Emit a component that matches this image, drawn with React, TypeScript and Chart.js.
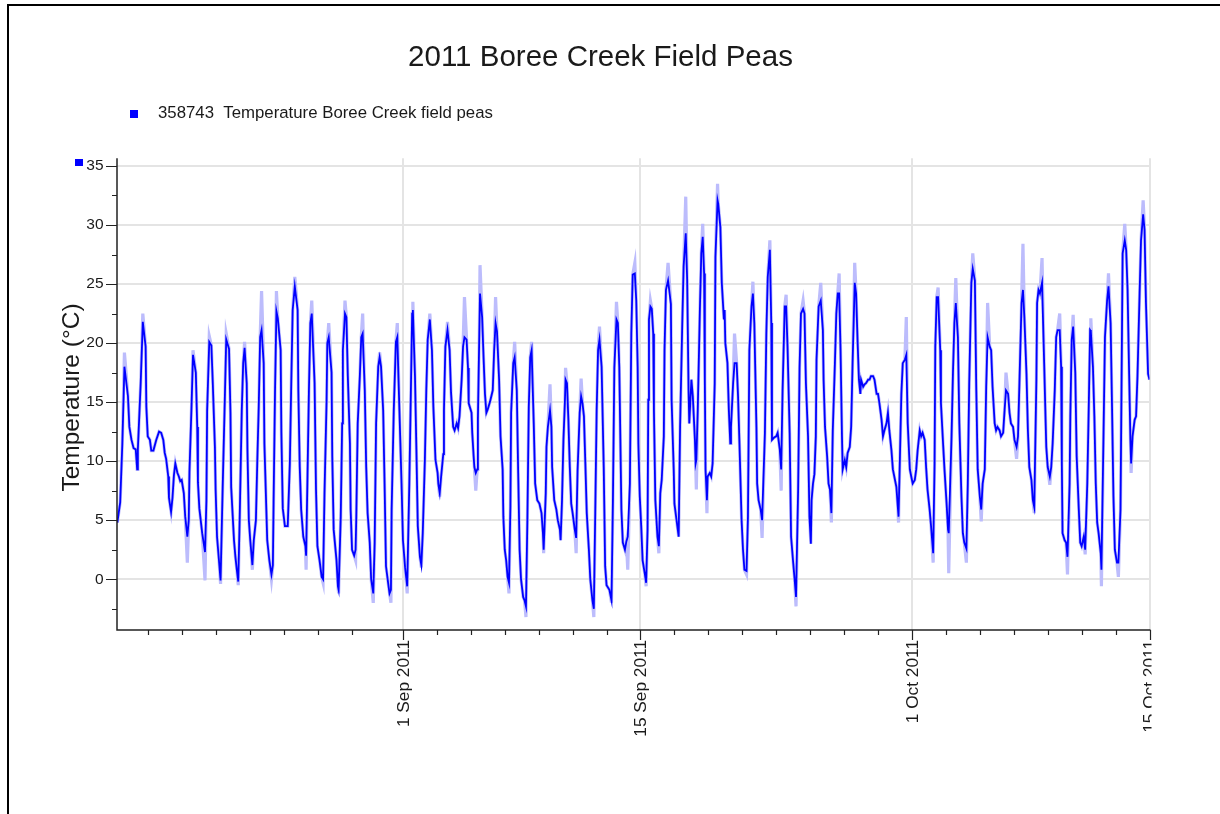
import React, { useEffect, useRef } from "react";
import { Chart, registerables } from "chart.js";

Chart.register(...registerables);

const chartTitle = "2011 Boree Creek Field Peas";
const seriesLabel = "358743  Temperature Boree Creek field peas";
const yAxisTitle = "Temperature (\u00B0C)";

// time: hours since 15 Aug 2011 00:00
const hours = [
  4, 8, 11, 14, 19, 21, 24, 27, 30, 32,
  33, 37, 40, 44, 45, 47, 50, 52, 55, 59,
  63, 66, 69, 71, 73, 76, 77, 80, 82, 84,
  86, 89, 91, 93, 95, 98, 100, 103, 105, 106,
  109, 111, 115, 117, 118, 120, 124, 128, 130, 131,
  134, 137, 139, 142, 143, 145, 148, 150, 153, 156,
  158, 162, 164, 165, 169, 171, 173, 175, 177, 180,
  182, 184, 187, 188, 190, 192, 195, 197, 200, 202,
  204, 206, 208, 211, 212, 216, 219, 222, 224, 225,
  227, 229, 231, 235, 236, 238, 241, 245, 248, 250,
  252, 255, 259, 260, 262, 264, 267, 270, 271, 273,
  275, 277, 279, 283, 285, 287, 290, 293, 295, 297,
  300, 301, 303, 307, 308, 310, 314, 316, 317, 320,
  322, 323, 326, 328, 330, 333, 334, 336, 339, 341,
  342, 344, 347, 349, 351, 354, 356, 358, 361, 363,
  366, 368, 370, 373, 375, 377, 380, 382, 384, 387,
  389, 391, 392, 395, 398, 400, 403, 406, 408, 411,
  414, 417, 419, 421, 422, 425, 427, 429, 432, 434,
  436, 439, 441, 443, 446, 449, 451, 454, 457, 458,
  460, 462, 465, 466, 468, 471, 474, 476, 479, 481,
  484, 486, 488, 491, 493, 495, 498, 500, 501, 505,
  506, 508, 509, 511, 513, 514, 516, 517, 520, 522,
  524, 526, 528, 531, 533, 535, 537, 539, 541, 544,
  546, 549, 550, 552, 554, 556, 558, 560, 561, 564,
  566, 569, 571, 573, 575, 578, 580, 582, 584, 586,
  588, 590, 593, 595, 598, 601, 604, 606, 607, 610,
  611, 613, 616, 618, 619, 622, 625, 627, 630, 631,
  633, 635, 637, 638, 640, 642, 644, 646, 648, 651,
  653, 655, 658, 660, 662, 664, 666, 668, 671, 673,
  676, 678, 680, 682, 684, 686, 689, 692, 694, 696,
  700, 703, 705, 707, 710, 712, 714, 717, 719, 722,
  724, 726, 729, 731, 733, 736, 738, 740, 741, 743,
  745, 747, 750, 752, 754, 755, 756, 758, 760, 762,
  763, 765, 768, 770, 772, 774, 777, 778, 780, 783,
  787, 788, 791, 792, 795, 798, 800, 803, 805, 808,
  810, 812, 813, 816, 818, 821, 822, 823, 825, 828,
  830, 832, 834, 835, 836, 838, 839, 842, 844, 846,
  849, 850, 853, 854, 857, 859, 862, 863, 864, 867,
  869, 871, 872, 875, 877, 880, 882, 884, 887, 889,
  891, 894, 896, 898, 901, 903, 905, 908, 909, 911,
  914, 916, 920, 922, 924, 927, 929, 930, 933, 936,
  938, 941, 943, 945, 948, 950, 952, 955, 957, 960,
  962, 964, 967, 969, 971, 974, 976, 978, 981, 983,
  985, 986, 988, 990, 992, 993, 996, 999, 1002, 1003,
  1005, 1008, 1010, 1012, 1014, 1016, 1019, 1021, 1023, 1025,
  1027, 1029, 1030, 1033, 1035, 1037, 1040, 1042, 1044, 1047,
  1049, 1051, 1053, 1055, 1056, 1059, 1061, 1063, 1066, 1068,
  1070, 1073, 1075, 1078, 1080, 1082, 1085, 1087, 1089, 1092,
  1094, 1096, 1099, 1101, 1103, 1106, 1108, 1109, 1111, 1113,
  1115, 1118, 1120, 1122, 1125, 1127, 1129, 1132, 1134, 1136,
  1139, 1141, 1143, 1146, 1148, 1150, 1153, 1155, 1158, 1160,
  1161, 1163, 1165, 1168, 1169, 1172, 1174, 1177, 1179, 1180,
  1184, 1186, 1188, 1190, 1193, 1195, 1198, 1200, 1202, 1205,
  1207, 1209, 1212, 1214, 1217, 1219, 1221, 1224, 1226, 1228,
  1231, 1233, 1235, 1238, 1240, 1242, 1245, 1247, 1249, 1252,
  1254, 1257, 1259, 1261, 1264, 1266, 1268, 1271, 1273, 1276,
  1278, 1280, 1283, 1285, 1287, 1290, 1292, 1294, 1297, 1299,
  1301, 1304, 1305, 1307, 1309, 1312, 1315, 1317, 1318, 1320,
  1323, 1325, 1327, 1330, 1332, 1334, 1337, 1339, 1340, 1341,
  1344, 1346, 1348, 1351, 1352, 1354, 1356, 1359, 1361, 1364,
  1366, 1368, 1371, 1373, 1376, 1378, 1380, 1381, 1384, 1386,
  1388, 1390, 1392, 1395, 1396, 1399, 1401, 1404, 1406, 1409,
  1411, 1413, 1415, 1418, 1420, 1423, 1424, 1426, 1429, 1431,
  1433, 1435, 1437, 1438, 1440, 1443, 1445, 1447, 1450, 1452,
  1455, 1457, 1459, 1462, 1464, 1466,
];

const temps = [
  4.8, 6.5, 11.4, 18.0, 15.5, 12.9, 11.8, 11.1, 11.0, 9.3,
  11.0, 16.6, 21.8, 19.7, 14.6, 12.1, 11.8, 10.9, 10.9, 11.8,
  12.5, 12.4, 11.8, 10.7, 10.2, 8.7, 6.9, 5.7, 6.9, 8.8,
  9.8, 9.0, 8.7, 8.3, 8.4, 7.3, 5.3, 3.6, 5.0, 9.1,
  14.8, 19.0, 17.5, 12.9, 8.2, 6.0, 3.9, 2.3, 6.7, 14.3,
  20.1, 19.8, 16.6, 11.2, 7.6, 3.6, 1.4, -0.1, 7.8, 15.2,
  20.3, 19.5, 14.1, 7.8, 3.3, 1.9, 0.8, -0.2, 5.0, 14.3,
  18.3, 19.6, 16.6, 11.0, 5.0, 3.3, 1.2, 3.3, 5.0, 10.1,
  14.6, 20.5, 21.1, 18.3, 11.5, 3.3, 1.6, 0.4, 1.2, 6.5,
  15.8, 22.7, 22.1, 19.4, 12.4, 6.0, 4.5, 4.5, 9.8, 16.6,
  22.8, 24.8, 22.8, 16.0, 9.5, 5.9, 3.6, 2.8, 2.0, 8.8,
  16.0, 21.7, 22.5, 16.6, 7.6, 2.8, 1.6, 0.2, 0.0, 7.2,
  15.2, 20.0, 20.5, 17.5, 10.4, 4.2, 1.6, -0.6, -0.9, 5.3,
  13.2, 19.4, 22.5, 22.2, 17.2, 11.5, 5.9, 2.5, 2.0, 2.5,
  5.3, 13.2, 17.2, 20.5, 20.8, 16.0, 9.5, 5.6, 3.1, 0.0,
  -1.2, 3.1, 13.2, 18.0, 18.8, 18.0, 14.3, 8.1, 1.1, -0.3,
  -1.2, -0.9, 5.9, 14.3, 20.1, 20.5, 14.3, 8.1, 3.3, 1.0,
  -0.6, 8.1, 15.2, 22.5, 22.8, 17.2, 11.0, 4.5, 1.9, 1.2,
  3.9, 10.1, 16.0, 20.3, 22.0, 19.4, 14.6, 10.1, 9.0, 8.1,
  7.3, 8.7, 10.6, 14.3, 19.7, 21.1, 19.4, 15.8, 12.9, 12.6,
  13.2, 12.8, 13.8, 16.9, 19.7, 20.5, 20.3, 17.9, 14.9, 14.1,
  12.4, 10.4, 9.5, 9.0, 9.3, 13.5, 20.8, 24.2, 22.2, 18.8,
  15.7, 14.1, 14.4, 15.0, 15.5, 16.0, 19.4, 21.7, 21.0, 16.9,
  12.1, 9.3, 5.3, 2.5, 1.6, 0.2, -0.3, 6.2, 14.1, 18.3,
  18.8, 16.0, 9.0, 2.5, 0.0, -1.5, -1.8, -2.3, 5.0, 14.6,
  18.8, 19.4, 13.2, 8.1, 6.7, 6.4, 5.6, 3.9, 2.5, 7.3,
  11.2, 12.9, 14.3, 12.9, 9.5, 6.7, 5.9, 5.0, 4.2, 3.3,
  6.7, 11.8, 14.9, 16.9, 16.6, 13.5, 9.5, 6.4, 5.6, 4.2,
  3.5, 9.2, 14.1, 15.5, 14.9, 13.8, 9.8, 5.6, 2.5, 0.0,
  -1.8, -2.5, 5.6, 14.3, 19.4, 20.3, 18.0, 9.5, 1.1, -0.5,
  -0.9, -1.8, 6.7, 17.9, 22.0, 21.7, 18.0, 5.9, 3.1, 2.5,
  3.2, 3.6, 8.1, 20.8, 25.8, 25.9, 23.6, 18.0, 11.5, 7.0,
  4.5, 1.6, 0.5, -0.3, 4.2, 15.2, 22.0, 23.1, 22.9, 20.8,
  14.3, 6.7, 3.6, 2.8, 7.3, 8.4, 12.1, 19.4, 24.5, 25.3,
  23.3, 15.2, 9.3, 6.4, 5.0, 3.6, 12.9, 21.4, 26.5, 29.3,
  25.4, 16.0, 13.2, 16.9, 15.5, 11.8, 9.8, 10.1, 14.3, 22.8,
  27.6, 29.0, 25.9, 16.9, 9.3, 6.7, 8.7, 9.0, 8.7, 9.8,
  16.6, 27.3, 32.1, 31.8, 29.8, 25.1, 22.0, 22.8, 20.0, 18.3,
  14.3, 11.5, 12.9, 16.6, 18.3, 18.3, 15.5, 11.5, 5.0, 2.5,
  0.8, 0.7, 5.3, 19.4, 23.1, 24.2, 21.7, 12.9, 8.1, 6.7,
  5.9, 5.0, 12.4, 20.8, 25.6, 27.9, 21.7, 11.8, 12.0, 12.1,
  12.4, 11.0, 9.3, 16.0, 23.1, 23.1, 19.7, 12.4, 3.6, 1.4,
  0.0, -1.5, 7.6, 17.9, 22.5, 22.9, 22.5, 16.6, 12.1, 5.3,
  3.0, 6.7, 8.1, 8.9, 12.1, 18.6, 23.1, 23.6, 21.1, 16.9,
  12.9, 10.4, 8.1, 7.6, 5.6, 12.6, 18.3, 22.5, 24.2, 24.2,
  19.4, 12.1, 9.3, 10.1, 9.5, 10.7, 11.2, 12.9, 18.3, 25.1,
  24.2, 20.3, 16.9, 15.7, 16.9, 16.3, 16.5, 16.6, 16.9, 16.9,
  17.2, 17.2, 16.9, 15.7, 15.7, 14.9, 13.5, 12.1, 12.6, 13.2,
  14.1, 12.6, 10.9, 9.3, 8.7, 7.8, 6.1, 5.3, 10.4, 15.7,
  18.3, 18.6, 19.0, 13.2, 9.3, 8.7, 8.1, 8.4, 9.3, 10.9,
  12.6, 12.1, 12.4, 11.8, 9.5, 7.6, 5.9, 4.5, 2.2, 9.8,
  19.7, 23.9, 23.9, 19.4, 14.9, 11.5, 9.3, 6.4, 4.2, 3.9,
  12.1, 17.5, 21.7, 23.4, 20.5, 13.2, 7.0, 3.9, 3.1, 2.6,
  8.1, 16.6, 25.1, 26.3, 25.3, 16.0, 9.3, 7.0, 5.9, 8.1,
  9.3, 16.3, 20.5, 19.7, 19.4, 16.3, 13.2, 12.6, 12.9, 12.6,
  12.1, 12.4, 14.3, 16.0, 15.7, 14.1, 13.2, 12.9, 11.8, 11.2,
  12.1, 16.6, 23.4, 24.5, 22.2, 17.4, 12.6, 9.5, 8.4, 6.7,
  6.1, 16.9, 23.4, 24.5, 24.2, 25.1, 18.3, 13.5, 11.2, 9.5,
  8.7, 9.5, 11.5, 16.0, 20.5, 21.1, 21.1, 18.0, 9.8, 3.9,
  3.3, 3.1, 1.9, 8.1, 13.8, 20.3, 21.4, 17.5, 10.4, 5.9,
  3.1, 2.8, 3.6, 2.5, 8.1, 14.3, 21.1, 21.0, 18.0, 13.8,
  8.1, 4.8, 3.9, 2.2, 0.8, 12.4, 20.5, 23.6, 24.8, 21.7,
  14.6, 7.0, 2.5, 1.4, 1.4, 5.9, 13.2, 27.6, 28.7, 27.9,
  24.5, 18.0, 11.8, 9.8, 12.1, 13.5, 13.8, 17.2, 24.2, 28.7,
  30.9, 29.6, 23.4, 17.4, 16.9, 15.5,
];

// short-interval extremes (lighter trace) at the daily peaks / troughs
const haloHours = [
  14, 40, 103, 111, 128, 134, 150, 158, 175, 184,
  195, 208, 222, 229, 255, 271, 279, 295, 303, 317,
  326, 341, 351, 366, 375, 391, 400, 414, 422, 434,
  446, 460, 471, 495, 511, 517, 539, 558, 566, 582,
  590, 607, 616, 638, 653, 660, 678, 686, 703, 710,
  726, 736, 752, 758, 770, 783, 808, 823, 832, 838,
  853, 877, 894, 903, 916, 927, 943, 950, 964, 974,
  999, 1014, 1025, 1047, 1109, 1120, 1158, 1165, 1180, 1190,
  1205, 1214, 1226, 1235, 1261, 1276, 1285, 1301, 1312, 1323,
  1337, 1348, 1356, 1373, 1381, 1396, 1406, 1420, 1429, 1438,
  1455,
];
const haloTemps = [
  19.2, 22.5, 1.4, 19.4, -0.1, 20.6, -0.4, 20.8, -0.5, 20.1,
  0.8, 24.4, 0.0, 24.4, 25.6, 0.8, 23.6, -0.3, 21.7, -1.2,
  23.6, 1.6, 22.5, -2.0, 19.2, -2.0, 21.7, -1.2, 23.5, 1.0,
  22.5, 7.0, 21.8, 23.9, 7.5, 26.6, 23.9, -1.2, 20.1, -3.2,
  20.1, 2.2, 16.5, 17.9, 2.2, 17.0, -3.2, 21.4, -2.0, 23.5,
  0.8, 26.8, -0.6, 23.6, 2.2, 26.8, 32.4, 7.6, 30.1, 5.6,
  33.5, 20.8, 0.4, 25.2, 3.5, 28.7, 7.5, 24.1, -2.3, 23.6,
  25.1, 4.8, 25.9, 26.8, 4.8, 22.2, 1.4, 24.7, 0.5, 25.5,
  1.4, 27.6, 4.9, 23.4, 17.5, 10.2, 28.4, 5.6, 27.2, 8.0,
  22.5, 0.4, 22.4, 2.1, 22.1, -0.6, 25.9, 0.2, 30.1, 9.0,
  32.1,
];

// x axis (hours since 15 Aug 2011 00:00)
const xMin = 3.5;
const xMax = 1464;
const xMajorHours = [408, 744, 1128, 1464];
const xMajorLabels = ["1 Sep 2011", "15 Sep 2011", "1 Oct 2011", "15 Oct 2011"];
const xMinorHours = [
  48, 96, 144, 192, 240, 288, 336,
  456, 504, 552, 600, 648, 696,
  792, 840, 888, 936, 984, 1032, 1080,
  1176, 1224, 1272, 1320, 1368, 1416,
];

// y axis
const yMin = -4.3;
const yMax = 35.65;
const yTickValues = [-2.5, 0, 2.5, 5, 7.5, 10, 12.5, 15, 17.5, 20, 22.5, 25, 27.5, 30, 32.5, 35];

const FONT = '"Liberation Sans", Arial, Helvetica, sans-serif';
const TEXT = "#1a1a1a";
const GRID = "#e4e4e4";
const AXIS = "#222222";
const BLUE = "#0000ff";
const HALO = "#bcbcfc";

const isYMajor = (v: number) => Math.abs(v % 5) < 1e-6;

const decorPlugin = {
  id: "decor",
  afterDraw(chart: any) {
    const { ctx, chartArea } = chart;
    const xs = chart.scales.x;
    const ys = chart.scales.y;
    ctx.save();

    // outer frame
    ctx.fillStyle = "#000";
    ctx.fillRect(7, 4, 1213, 2);
    ctx.fillRect(7, 4, 2, 810);

    // title
    ctx.fillStyle = TEXT;
    ctx.font = `29.5px ${FONT}`;
    ctx.textAlign = "center";
    ctx.textBaseline = "alphabetic";
    ctx.fillText(chartTitle, 600.5, 66);

    // legend
    ctx.fillStyle = BLUE;
    ctx.fillRect(130, 110, 8, 8);
    ctx.fillStyle = TEXT;
    ctx.font = `16.8px ${FONT}`;
    ctx.textAlign = "left";
    ctx.fillText(seriesLabel, 158, 117.5);

    // series marker at top of axis
    ctx.fillStyle = BLUE;
    ctx.fillRect(75, 159, 8, 7);

    // axis lines
    ctx.strokeStyle = AXIS;
    ctx.lineWidth = 1.5;
    ctx.beginPath();
    ctx.moveTo(chartArea.left, chartArea.top);
    ctx.lineTo(chartArea.left, chartArea.bottom);
    ctx.lineTo(chartArea.right + 1, chartArea.bottom);
    ctx.stroke();

    // y tick marks
    ctx.lineWidth = 1.2;
    ctx.beginPath();
    yTickValues.forEach((v) => {
      const py = Math.round(ys.getPixelForValue(v)) + 0.5;
      const len = isYMajor(v) ? 11 : 5;
      ctx.moveTo(chartArea.left - len, py);
      ctx.lineTo(chartArea.left, py);
    });
    // x tick marks
    xMinorHours.forEach((h) => {
      const px = Math.round(xs.getPixelForValue(h)) + 0.5;
      ctx.moveTo(px, chartArea.bottom);
      ctx.lineTo(px, chartArea.bottom + 5);
    });
    xMajorHours.forEach((h) => {
      const px = Math.round(xs.getPixelForValue(h)) + 0.5;
      ctx.moveTo(px, chartArea.bottom);
      ctx.lineTo(px, chartArea.bottom + 10);
    });
    ctx.stroke();

    // x labels (rotated), clipped at right edge
    ctx.save();
    ctx.beginPath();
    ctx.rect(0, 0, 1151.5, 814);
    ctx.clip();
    ctx.fillStyle = TEXT;
    ctx.font = `17.3px ${FONT}`;
    ctx.textAlign = "right";
    ctx.textBaseline = "middle";
    xMajorHours.forEach((h, i) => {
      const px = xs.getPixelForValue(h);
      ctx.save();
      ctx.translate(px + 1, chartArea.bottom + 10);
      ctx.rotate(-Math.PI / 2);
      ctx.fillText(xMajorLabels[i], 0, 0);
      ctx.restore();
    });
    ctx.restore();

    // y axis title
    ctx.save();
    ctx.fillStyle = TEXT;
    ctx.font = `24.5px ${FONT}`;
    ctx.textAlign = "center";
    ctx.textBaseline = "middle";
    ctx.translate(72, 397.5);
    ctx.rotate(-Math.PI / 2);
    ctx.fillText(yAxisTitle, 0, 0);
    ctx.restore();

    ctx.restore();
  },
};

export default function App() {
  const canvasRef = useRef<HTMLCanvasElement | null>(null);

  useEffect(() => {
    const canvas = canvasRef.current;
    if (!canvas) return;

    const haloMap = new Map<number, number>();
    haloHours.forEach((h, i) => haloMap.set(h, haloTemps[i]));

    const mainData = hours.map((h, i) => ({ x: h, y: temps[i] }));
    const haloData = hours.map((h, i) => ({ x: h, y: haloMap.has(h) ? (haloMap.get(h) as number) : temps[i] }));

    const chart = new Chart(canvas, {
      type: "line",
      data: {
        datasets: [
          {
            label: seriesLabel,
            data: mainData,
            borderColor: BLUE,
            borderWidth: 1.8,
            pointRadius: 0,
            tension: 0,
            fill: false,
            order: 0,
          },
          {
            label: "halo",
            data: haloData,
            borderColor: HALO,
            borderWidth: 3.2,
            pointRadius: 0,
            tension: 0,
            fill: false,
            order: 1,
          },
        ],
      },
      options: {
        responsive: false,
        animation: false,
        devicePixelRatio: 1,
        events: [],
        parsing: false as any,
        layout: { padding: { left: 0, top: 158.3, right: 1220 - 1149.5, bottom: 0 } },
        plugins: {
          legend: { display: false },
          title: { display: false },
          tooltip: { enabled: false },
        },
        scales: {
          x: {
            type: "linear",
            min: xMin,
            max: xMax,
            afterBuildTicks: (scale: any) => {
              scale.ticks = xMajorHours.map((v) => ({ value: v }));
            },
            afterFit: (scale: any) => {
              scale.height = 814 - 630;
            },
            ticks: { display: false },
            border: { display: false },
            grid: {
              color: GRID,
              lineWidth: 2,
              drawTicks: false,
            },
          },
          y: {
            type: "linear",
            min: yMin,
            max: yMax,
            afterBuildTicks: (scale: any) => {
              scale.ticks = yTickValues.map((v) => ({ value: v }));
            },
            afterFit: (scale: any) => {
              scale.width = 117;
            },
            ticks: {
              padding: 13.5,
              color: TEXT,
              font: { family: FONT, size: 15.5 },
              callback: (v: any) => (isYMajor(Number(v)) ? String(v) : ""),
            },
            border: { display: false },
            grid: {
              color: (c: any) => (c.tick && isYMajor(c.tick.value) ? GRID : "rgba(0,0,0,0)"),
              lineWidth: 2,
              drawTicks: false,
            },
          },
        },
      },
      plugins: [decorPlugin],
    });

    return () => chart.destroy();
  }, []);

  return (
    <div style={{ position: "absolute", left: 0, top: 0, width: 1220, height: 814, background: "#fff" }}>
      <canvas ref={canvasRef} width={1220} height={814} style={{ display: "block", width: 1220, height: 814 }} />
    </div>
  );
}
